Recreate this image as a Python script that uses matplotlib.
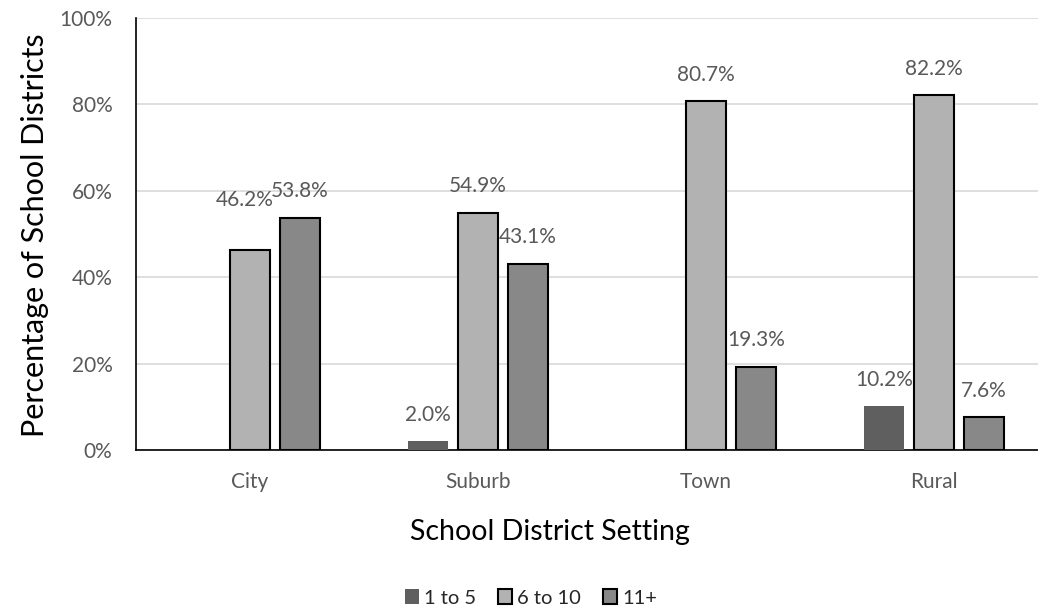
import numpy as np
import matplotlib.pyplot as plt

plt.rcParams['font.family'] = ['Lato', 'DejaVu Sans']

settings = ["City", "Suburb", "Town", "Rural"]
series = ["1 to 5", "6 to 10", "11+"]
v_1to5 = [0.0, 2.0, 0.0, 10.2]
v_6to10 = [46.2, 54.9, 80.7, 82.2]
v_11plus = [53.8, 43.1, 19.3, 7.6]

colors = ["#5f5f5f", "#b2b2b2", "#888888"]
edges = ["none", "black", "black"]
txt = "#595959"

fig = plt.figure(figsize=(10.38, 6.09), dpi=100)
ax = fig.add_axes([136/1038, 1 - 450/609, 1 - 136/1038, 432/609])

x = np.arange(len(settings))
w = 40/228
step = 50/228
for i, (vals, name) in enumerate(zip([v_1to5, v_6to10, v_11plus], series)):
    pos = x + (i - 1) * step
    ax.bar(pos, vals, width=w, color=colors[i], edgecolor=edges[i],
           linewidth=1.5, label=name, zorder=3)
    for p, v, cat in zip(pos, vals, settings):
        if v == 0:
            continue
        off = 19
        dx = 0
        if cat == "City" and i == 1:
            off = 36
            dx = -4
        ax.annotate(f"{v:.1f}%", (p, v), xytext=(dx, off), textcoords="offset points",
                    ha="center", va="center", fontsize=15, color=txt)

ax.set_xlim(-0.5, -0.5 + 902/228)
ax.set_ylim(0, 100)
ax.set_yticks(range(0, 101, 20))
ax.set_yticklabels([f"{t}%" for t in range(0, 101, 20)])
ax.set_xticks(x)
ax.set_xticklabels(settings)
ax.tick_params(length=0, labelsize=15, labelcolor=txt)
ax.tick_params(axis='x', pad=16)
ax.tick_params(axis='y', pad=17)
ax.grid(axis='y', color="#d9d9d9", linewidth=1.2, zorder=0)
for s in ["top", "right"]:
    ax.spines[s].set_visible(False)
ax.spines["left"].set_color("black")
ax.spines["bottom"].set_color("black")
ax.spines["left"].set_linewidth(1.2)
ax.spines["bottom"].set_linewidth(1.2)

fig.text(35/1038, 1 - 235/609, "Percentage of School Districts", rotation=90,
         ha="center", va="center", fontsize=22, color="black")
fig.text(550/1038, 1 - 532/609, "School District Setting",
         ha="center", va="center", fontsize=20.5, color="black")

fig.legend(loc="center", bbox_to_anchor=(531/1038, 1 - 598/609), ncol=3,
           frameon=False, fontsize=14.5, handlelength=0.7, handleheight=0.7,
           handletextpad=0.25, columnspacing=1.1, labelcolor="#262626")

fig.savefig("out.png", dpi=100)
